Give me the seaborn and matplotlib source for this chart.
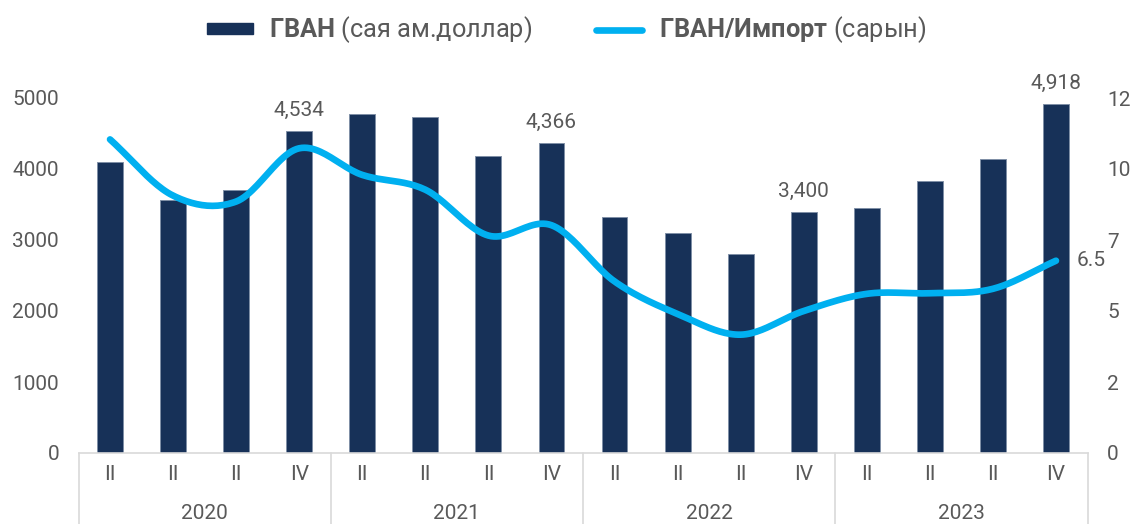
import numpy as np
import pandas as pd
import matplotlib
matplotlib.use("Agg")
import matplotlib.pyplot as plt
import seaborn as sns
from matplotlib.lines import Line2D
from matplotlib.patches import Patch

# ---- data ----
years = ["2020", "2021", "2022", "2023"]
quarters = ["II", "II", "II", "IV", "II", "II", "II", "IV",
            "II", "II", "II", "IV", "II", "II", "II", "IV"]
gvan = [4100, 3560, 3700, 4534, 4780, 4735, 4185, 4366,
        3320, 3105, 2800, 3400, 3445, 3825, 4140, 4918]
ratio = [10.6, 8.7, 8.5, 10.3, 9.4, 8.9, 7.35, 7.7,
         5.8, 4.7, 4.0, 4.8, 5.38, 5.4, 5.55, 6.5]
labeled_bars = [3, 7, 11, 15]
left_ticks = [0, 1000, 2000, 3000, 4000, 5000]
right_ticks = [0, 2.4, 4.8, 7.2, 9.6, 12]
right_tick_labels = ["0", "2", "5", "7", "10", "12"]

BAR = "#173158"
LINE = "#00B0F0"
TXT = "#595959"
GRID = "#D9D9D9"
FS = 15

sns.set_theme(style="white")
plt.rcParams["font.family"] = ["Roboto", "DejaVu Sans"]
plt.rcParams["mathtext.fontset"] = "custom"
plt.rcParams["mathtext.rm"] = "Roboto"
plt.rcParams["mathtext.bf"] = "Roboto:bold"

df = pd.DataFrame({"pos": list(range(len(gvan))), "gvan": gvan, "ratio": ratio})

W, H = 1133, 524
fig = plt.figure(figsize=(W / 100, H / 100), dpi=100)
ax = fig.add_axes([78.5 / W, 71 / H, 1009 / W, 355 / H])

sns.barplot(data=df, x="pos", y="gvan", color=BAR, saturation=1, width=0.41,
            edgecolor="#7F8FA6", linewidth=0.7, ax=ax)
ax.set_xlim(-0.5, len(gvan) - 0.5)
ax.set_ylim(0, 5000)
ax.set_xlabel("")
ax.set_ylabel("")
ax.set_yticks(left_ticks)
ax.set_yticklabels([str(t) for t in left_ticks])
ax.set_xticks(range(len(quarters)))
ax.set_xticklabels(quarters)
ax.tick_params(axis="y", length=0, pad=14, labelsize=FS, labelcolor=TXT)
ax.tick_params(axis="x", length=0, pad=8.5, labelsize=FS, labelcolor=TXT)
for s in ["top", "right", "left"]:
    ax.spines[s].set_visible(False)
ax.spines["bottom"].set_color(GRID)
ax.spines["bottom"].set_linewidth(1.2)

# multi-level category axis: separators and year labels
trans = ax.get_xaxis_transform()
for k in range(len(years) + 1):
    xb = k * 4 - 0.5
    ax.plot([xb, xb], [0, -0.21], transform=trans, color=GRID, lw=1.2, clip_on=False)
for k, yr in enumerate(years):
    ax.text(k * 4 + 1.5, -(523 - 453) / 355, yr, transform=trans, ha="center",
            va="bottom", fontsize=FS, color=TXT)

# value labels on selected bars
for i in labeled_bars:
    ax.annotate(f"{gvan[i]:,}", (i, gvan[i]), xytext=(0, 8), textcoords="offset points",
                ha="center", va="bottom", fontsize=FS, color=TXT)

# secondary axis with smoothed line
ax2 = ax.twinx()
ax2.set_ylim(0, 12)


def catmull_rom(xv, yv, n=24):
    xv = np.asarray(xv, float)
    yv = np.asarray(yv, float)
    px = np.concatenate([[2 * xv[0] - xv[1]], xv, [2 * xv[-1] - xv[-2]]])
    py = np.concatenate([[2 * yv[0] - yv[1]], yv, [2 * yv[-1] - yv[-2]]])
    ox, oy = [], []
    t = np.linspace(0, 1, n, endpoint=False)
    for i in range(1, len(px) - 2):
        for arr, out in ((px, ox), (py, oy)):
            p0, p1, p2, p3 = arr[i - 1], arr[i], arr[i + 1], arr[i + 2]
            out.extend(0.5 * ((2 * p1) + (-p0 + p2) * t + (2 * p0 - 5 * p1 + 4 * p2 - p3) * t ** 2
                              + (-p0 + 3 * p1 - 3 * p2 + p3) * t ** 3))
    ox.append(xv[-1])
    oy.append(yv[-1])
    return np.array(ox), np.array(oy)


sx, sy = catmull_rom(df["pos"], df["ratio"])
sns.lineplot(x=sx, y=sy, ax=ax2, color=LINE, lw=4.8, sort=False, estimator=None,
             solid_capstyle="round")
ax2.set_yticks(right_ticks)
ax2.set_yticklabels(right_tick_labels)
ax2.tick_params(axis="y", length=0, pad=14, labelsize=FS, labelcolor=TXT)
ax2.set_ylabel("")
for s in ax2.spines.values():
    s.set_visible(False)
ax2.annotate(f"{ratio[-1]}", (len(ratio) - 1, ratio[-1]), xytext=(15, 0),
             textcoords="offset points", ha="left", va="center", fontsize=FS, color=TXT)

# legend
handles = [Patch(facecolor=BAR, edgecolor=BAR),
           Line2D([0], [0], color=LINE, lw=4.8, solid_capstyle="round")]
labels = [r"$\mathbf{ГВАН}$ (сая ам.доллар)", r"$\mathbf{ГВАН/Импорт}$ (сарын)"]
fig.legend(handles, labels, loc="center", bbox_to_anchor=(0.5, 0.943), ncol=2,
           frameon=False, handlelength=1.8, handleheight=0.28, handletextpad=0.66,
           columnspacing=2.5, fontsize=18.3, labelcolor=TXT)

fig.savefig("out.png", dpi=100)
